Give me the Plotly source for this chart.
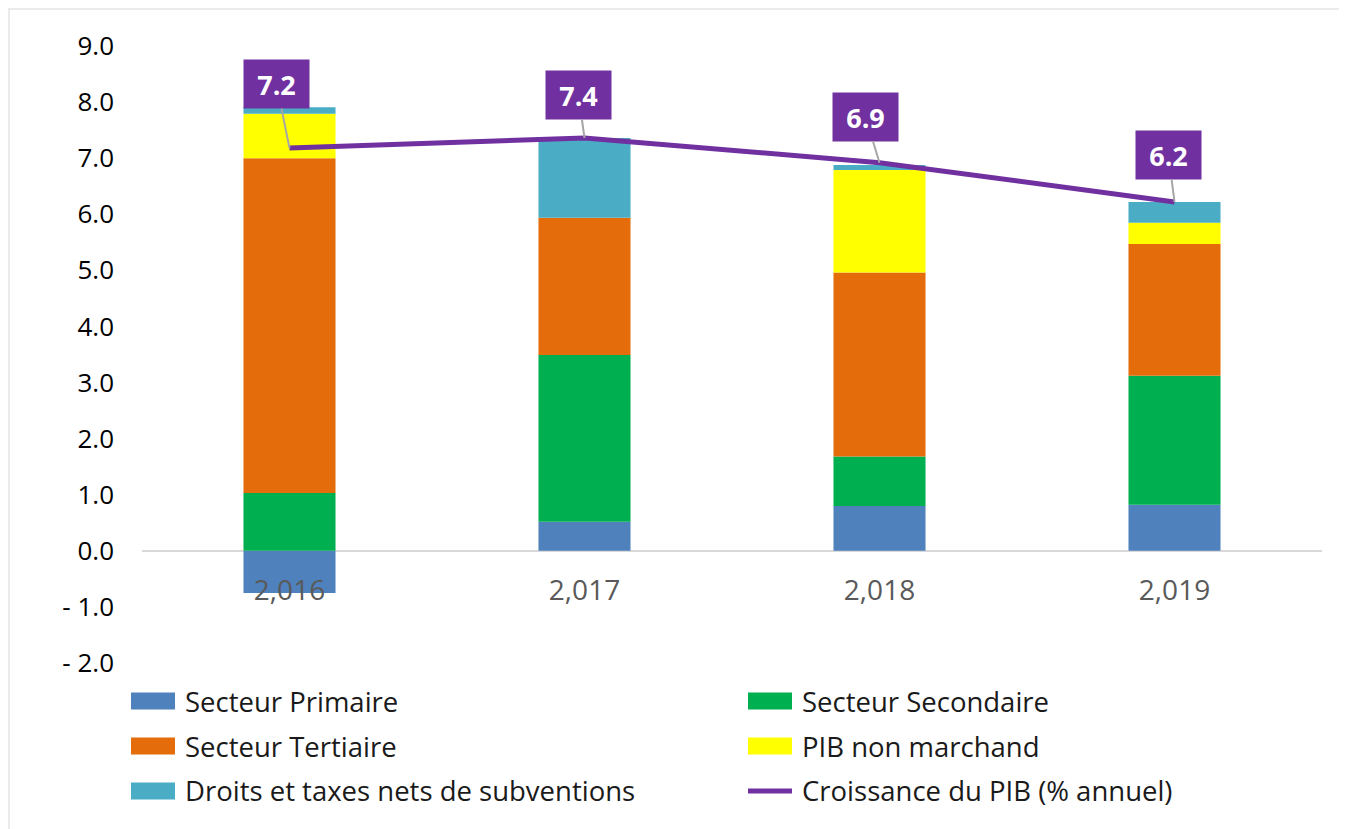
import plotly.graph_objects as go

years = ["2,016", "2,017", "2,018", "2,019"]
primaire = [-0.75, 0.52, 0.80, 0.82]
secondaire = [1.03, 2.97, 0.88, 2.30]
tertiaire = [5.97, 2.45, 3.28, 2.35]
non_marchand = [0.79, 0.0, 1.83, 0.38]
droits_taxes = [0.12, 1.42, 0.09, 0.37]
croissance = [7.18, 7.36, 6.92, 6.22]
croissance_labels = ["7.2", "7.4", "6.9", "6.2"]

y_tickvals = [9, 8, 7, 6, 5, 4, 3, 2, 1, 0, -1, -2]
y_ticktext = ["9.0", "8.0", "7.0", "6.0", "5.0", "4.0", "3.0", "2.0", "1.0", "0.0", "- 1.0", "- 2.0"]

series = [
    ("Secteur Primaire", primaire, "#4F81BD"),
    ("Secteur Secondaire", secondaire, "#00B050"),
    ("Secteur Tertiaire", tertiaire, "#E46C0A"),
    ("PIB non marchand", non_marchand, "#FFFF00"),
    ("Droits et taxes nets de subventions", droits_taxes, "#4BACC6"),
]
line_name = "Croissance du PIB (% annuel)"
purple = "#7030A0"

W, H = 1347, 829
D = 8  # page body margin offset
ML, MT = 142 - D, 46 - D
MR = W - (1322 - D)
MB = H - (663 - D)
PW, PH = W - ML - MR, H - MT - MB
YMIN, YMAX = -2, 9


def px2x(px):
    return (px - D - ML) / PW


def px2y(py):
    return (H - MB - (py - D)) / PH


fig = go.Figure()
for name, vals, col in series:
    fig.add_trace(go.Bar(x=years, y=vals, name=name, marker=dict(color=col, line=dict(width=0)),
                         showlegend=False))

fig.add_trace(go.Scatter(x=years, y=croissance, name=line_name, mode="lines",
                         line=dict(color=purple, width=5), showlegend=False))

# data labels
offsets = [(-13, -64), (-6, -43), (-14, -46), (-6, -47)]
for xv, yv, lab, (ax, ay) in zip(years, croissance, croissance_labels, offsets):
    fig.add_annotation(x=xv, y=yv, text="<b>" + lab + "</b>", showarrow=True, arrowhead=0,
                       arrowwidth=2, arrowcolor="#A6A6A6", ax=ax, ay=ay, bgcolor=purple,
                       width=65, height=48, borderpad=0, standoff=0,
                       font=dict(family="Open Sans", size=27, color="white"))

# custom legend
legend_items = [
    (series[0][0], series[0][2], "bar", 131, 701),
    (series[1][0], series[1][2], "bar", 748, 701),
    (series[2][0], series[2][2], "bar", 131, 746),
    (series[3][0], series[3][2], "bar", 748, 746),
    (series[4][0], series[4][2], "bar", 131, 791),
    (line_name, purple, "line", 748, 791),
]
for name, col, kind, lx, ly in legend_items:
    if kind == "bar":
        fig.add_shape(type="rect", xref="paper", yref="paper", x0=px2x(lx), x1=px2x(lx + 44),
                      y0=px2y(ly + 8.5), y1=px2y(ly - 8.5), fillcolor=col, line=dict(width=0))
    else:
        fig.add_shape(type="line", xref="paper", yref="paper", x0=px2x(lx), x1=px2x(lx + 44),
                      y0=px2y(ly), y1=px2y(ly), line=dict(color=col, width=5))
    fig.add_annotation(xref="paper", yref="paper", x=px2x(lx + 52), y=px2y(ly), text=name,
                       showarrow=False, xanchor="left", yanchor="middle",
                       font=dict(family="Open Sans", size=27.5, color="#1a1a1a"))

# chart border (left and top edges visible)
fig.add_shape(type="rect", xref="paper", yref="paper", x0=px2x(D + 1), x1=px2x(W + 20),
              y0=px2y(H + 20), y1=px2y(D + 1), line=dict(color="#EBEBEB", width=2), layer="below")

fig.update_layout(
    width=W, height=H,
    margin=dict(l=ML, r=MR, t=MT, b=MB, pad=0),
    barmode="relative", bargap=0.688,
    plot_bgcolor="white", paper_bgcolor="white",
    showlegend=False,
    font=dict(family="Open Sans", size=24, color="#000000"),
    xaxis=dict(type="category", anchor="free", position=(0 - YMIN) / (YMAX - YMIN),
               showline=False, showgrid=False, zeroline=False, ticks="",
               ticklabelstandoff=20,
               tickfont=dict(family="Open Sans", size=28, color="#595959")),
    yaxis=dict(range=[YMIN, YMAX], tickvals=y_tickvals, ticktext=y_ticktext,
               showgrid=False, zeroline=True, zerolinecolor="#D9D9D9", zerolinewidth=2,
               showline=False, ticks="", ticklabelstandoff=27,
               tickfont=dict(family="Open Sans", size=26, color="#000000")),
)

fig.write_html("out.html")
